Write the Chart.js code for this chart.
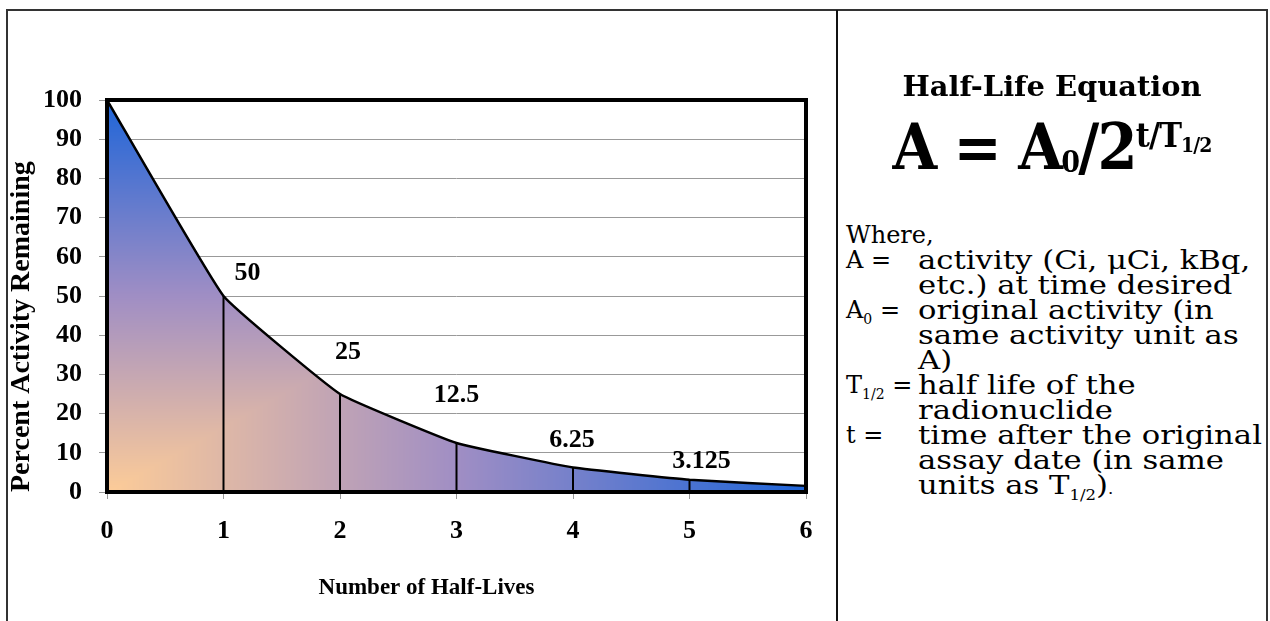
<!DOCTYPE html>
<html>
<head>
<meta charset="utf-8">
<script src="https://cdn.jsdelivr.net/npm/chart.js@4.4.1/dist/chart.umd.min.js"></script>
<style>
  body { margin: 0; background: #fff; width: 1270px; height: 621px; overflow: hidden; position: relative; }
  #frame { position: absolute; left: 6px; top: 9px; width: 1258px; height: 640px; border-left: 2px solid #333; border-top: 2px solid #333; border-right: 2px solid #333; }
  #divider { position: absolute; left: 836px; top: 10px; width: 2px; height: 620px; background: #111; }
  #chartBox { position: absolute; left: 0; top: 0; width: 836px; height: 621px; }
  .serif { font-family: "DejaVu Serif", serif; color: #000; }
  #eqTitle { position: absolute; left: 838px; width: 428px; top: 71px; text-align: center; font-weight: bold; font-size: 27px; transform: scaleX(1.07); }
  #eq { position: absolute; left: 838px; width: 428px; top: 109px; text-align: center; font-weight: bold; font-size: 64px; letter-spacing: -2px; white-space: nowrap; transform: scaleX(0.9); }
  #eq sub { font-size: 30px; vertical-align: -3px; }
  #eq sup { font-size: 34px; vertical-align: 22px; letter-spacing: -1px; }
  #eq sup sub { font-size: 21px; vertical-align: -5px; }
  #where { position: absolute; left: 846px; top: 223px; line-height: 25px; white-space: nowrap; }
  .line { position: relative; height: 25px; }
  .term { position: absolute; left: 0; top: 0; font-size: 24px; }
  .def { position: absolute; left: 72px; top: 0; font-size: 26px; transform: scaleX(1.18); transform-origin: 0 0; }
  .small { font-size: 14px; }
</style>
</head>
<body>
<div id="frame"></div>
<div id="divider"></div>
<div id="chartBox"><canvas id="decayChart"></canvas></div>

<div id="eqTitle" class="serif">Half-Life Equation</div>
<div id="eq" class="serif">A = A<sub>0</sub>/2<sup>t/T<sub>1/2</sub></sup></div>

<div id="where" class="serif">
  <div class="line"><span class="term">Where,</span></div>
  <div class="line"><span class="term">A =</span><span class="def">activity (Ci, μCi, kBq,</span></div>
  <div class="line"><span class="def">etc.) at time desired</span></div>
  <div class="line"><span class="term">A<sub class="small">0</sub> =</span><span class="def">original activity (in</span></div>
  <div class="line"><span class="def">same activity unit as</span></div>
  <div class="line"><span class="def">A)</span></div>
  <div class="line"><span class="term">T<sub class="small">1/2</sub> =</span><span class="def">half life of the</span></div>
  <div class="line"><span class="def">radionuclide</span></div>
  <div class="line"><span class="term">t =</span><span class="def">time after the original</span></div>
  <div class="line"><span class="def">assay date (in same</span></div>
  <div class="line"><span class="def">units as T<sub class="small">1/2</sub>)<span class="small">.</span></span></div>
</div>

<script>
// Half-lives on the x axis
var halfLives = ["0", "1", "2", "3", "4", "5", "6"];

// Percent activity left after each half-life
var percentLeft = [100, 50, 25, 12.5, 6.25, 3.125, 1.5625];

// Which points get a value label and a drop line
var labelled = [1, 2, 3, 4, 5];

// y axis ticks
var yTicks = [0, 10, 20, 30, 40, 50, 60, 70, 80, 90, 100];

var timesFont = "'Liberation Serif', 'Times New Roman', serif";

// corner gradient: peach in the bottom left, mauve, then blue
var fillStops = [
    [0, [253, 204, 152]],
    [0.5, [160, 142, 196]],
    [1, [31, 101, 216]]
];

function stopColor(t) {
    for (var s = 1; s < fillStops.length; s++) {
        if (t <= fillStops[s][0]) {
            var a = fillStops[s - 1], b = fillStops[s];
            var f = (t - a[0]) / (b[0] - a[0]);
            return [
                a[1][0] + (b[1][0] - a[1][0]) * f,
                a[1][1] + (b[1][1] - a[1][1]) * f,
                a[1][2] + (b[1][2] - a[1][2]) * f
            ];
        }
    }
    return fillStops[fillStops.length - 1][1];
}

var fillCache = null;
function cornerFill(context) {
    var chart = context.chart;
    var area = chart.chartArea;
    if (!area) return null;
    var key = area.left + "," + area.top + "," + area.right + "," + area.bottom;
    if (fillCache && fillCache.key === key) return fillCache.pattern;

    var off = document.createElement("canvas");
    off.width = chart.width;
    off.height = chart.height;
    var octx = off.getContext("2d");
    var w = Math.round(area.right - area.left);
    var h = Math.round(area.bottom - area.top);
    var img = octx.createImageData(w, h);
    for (var py = 0; py < h; py++) {
        for (var px = 0; px < w; px++) {
            var c = stopColor(Math.max(px / w, (h - py) / h));
            var i = (py * w + px) * 4;
            img.data[i] = c[0];
            img.data[i + 1] = c[1];
            img.data[i + 2] = c[2];
            img.data[i + 3] = 255;
        }
    }
    octx.putImageData(img, Math.round(area.left), Math.round(area.top));
    var pattern = chart.ctx.createPattern(off, "no-repeat");
    fillCache = { key: key, pattern: pattern };
    return pattern;
}

// drop lines, value labels, thick frame and x title
var decayExtras = {
    id: "decayExtras",
    afterDatasetsDraw: function(chart, args, opts) {
        var ctx = chart.ctx;
        var area = chart.chartArea;
        var meta = chart.getDatasetMeta(0);
        ctx.save();
        ctx.strokeStyle = "#000";
        ctx.lineWidth = 2;
        labelled.forEach(function(idx) {
            var pt = meta.data[idx];
            ctx.beginPath();
            ctx.moveTo(pt.x, pt.y);
            ctx.lineTo(pt.x, area.bottom);
            ctx.stroke();
        });

        ctx.lineWidth = 4;
        ctx.strokeRect(area.left, area.top, area.right - area.left, area.bottom - area.top);

        ctx.fillStyle = "#000";
        ctx.font = "bold 26px " + timesFont;
        ctx.textAlign = "center";
        ctx.textBaseline = "middle";
        labelled.forEach(function(idx, n) {
            var pt = meta.data[idx];
            var off = opts.offsets[n];
            ctx.fillText(String(percentLeft[idx]), pt.x + off[0], pt.y + off[1]);
        });

        ctx.font = "bold 23px " + timesFont;
        ctx.fillText(opts.xTitle, (area.left + area.right) / 2 - 30, area.bottom + 96);
        ctx.restore();
    }
};

var ctx = document.getElementById("decayChart").getContext("2d");
var chart = new Chart(ctx, {
    type: "line",
    data: {
        labels: halfLives,
        datasets: [{
            data: percentLeft,
            borderColor: "#000",
            borderWidth: 2.5,
            backgroundColor: cornerFill,
            fill: "origin",
            tension: 0.1,
            pointRadius: 0
        }]
    },
    plugins: [decayExtras],
    options: {
        responsive: true,
        maintainAspectRatio: false,
        animation: false,
        layout: { padding: { left: 0, right: 30, top: 100, bottom: 0 } },
        plugins: {
            legend: { display: false },
            tooltip: { enabled: false },
            decayExtras: {
                xTitle: "Number of Half-Lives",
                offsets: [[24, -23], [8, -42], [0, -48], [-1, -27], [12, -18]]
            }
        },
        scales: {
            x: {
                grid: { drawOnChartArea: false, drawTicks: true, tickLength: 7, color: "#999" },
                border: { display: false },
                ticks: { color: "#000", padding: 17, maxRotation: 0, font: { family: timesFont, size: 26, weight: "bold" } },
                afterFit: function(scale) { scale.height = 129; }
            },
            y: {
                min: 0,
                max: 100,
                afterBuildTicks: function(scale) {
                    scale.ticks = yTicks.map(function(v) { return { value: v }; });
                },
                grid: { color: "#999", lineWidth: 1, tickLength: 8 },
                border: { display: false },
                ticks: { color: "#000", padding: 17, font: { family: timesFont, size: 26, weight: "bold" } },
                title: {
                    display: true,
                    text: "Percent Activity Remaining",
                    align: "start",
                    color: "#000",
                    padding: { top: 5, bottom: 0 },
                    font: { family: timesFont, size: 28, weight: "bold" }
                },
                afterFit: function(scale) { scale.width = 107; }
            }
        }
    }
});
</script>
</body>
</html>
